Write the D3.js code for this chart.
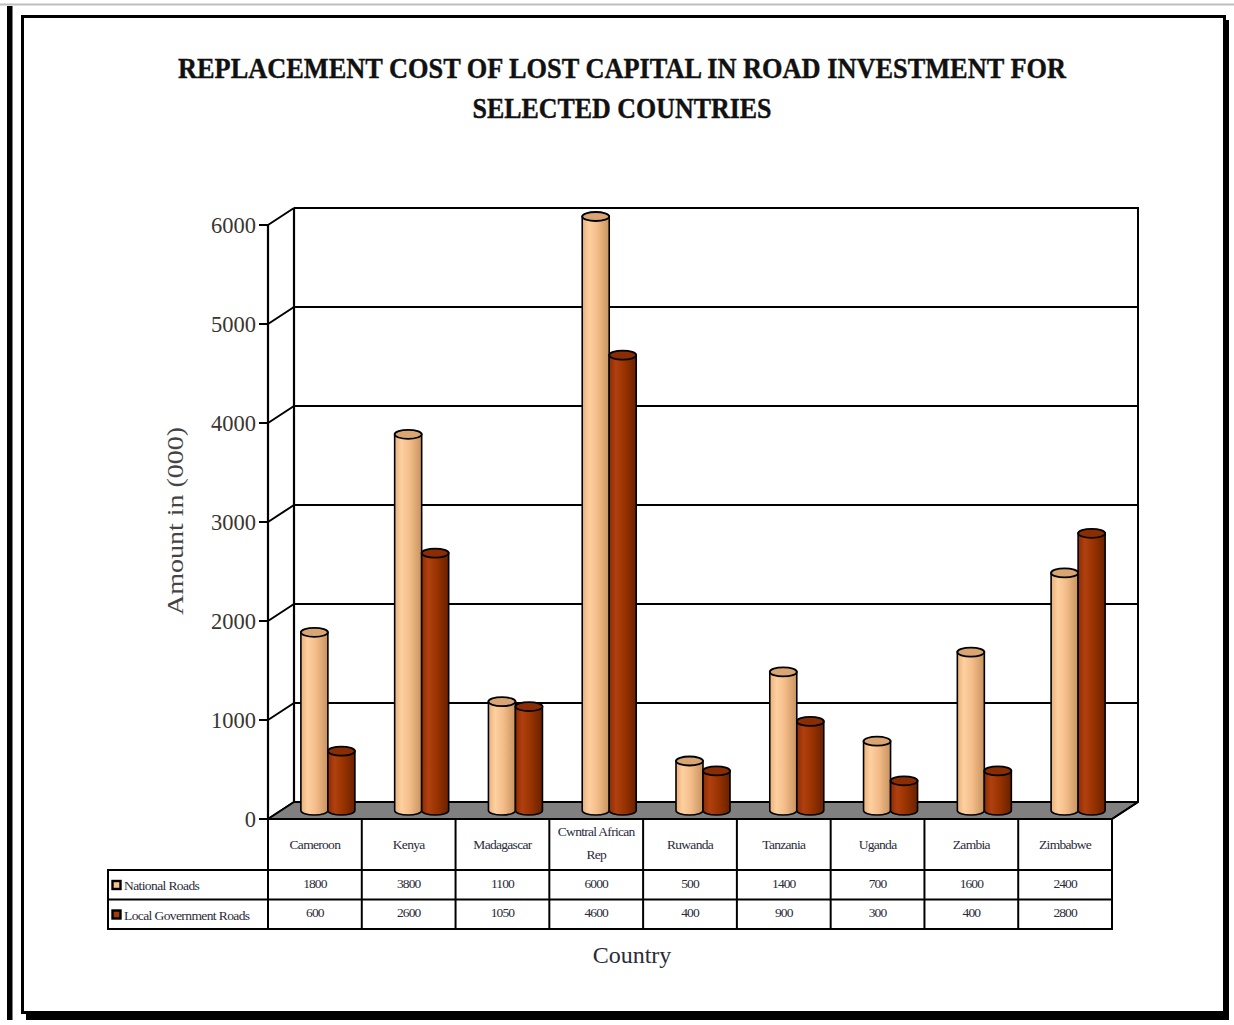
<!DOCTYPE html>
<html>
<head>
<meta charset="utf-8">
<script src="https://cdn.jsdelivr.net/npm/d3@7"></script>
<style>
  html, body { margin: 0; padding: 0; background: #fff; }
  svg { display: block; }
</style>
</head>
<body>
<svg id="chart" width="1234" height="1025"></svg>
<script>
const countries = ["Cameroon", "Kenya", "Madagascar", "Cwntral African Rep", "Ruwanda", "Tanzania", "Uganda", "Zambia", "Zimbabwe"];
const nationalRoads = [1800, 3800, 1100, 6000, 500, 1400, 700, 1600, 2400];
const localGovRoads = [600, 2600, 1050, 4600, 400, 900, 300, 400, 2800];
const seriesNames = ["National Roads", "Local Government Roads"];
const yTicks = [0, 1000, 2000, 3000, 4000, 5000, 6000];
const titleLines = ["REPLACEMENT COST OF LOST CAPITAL IN ROAD INVESTMENT FOR", "SELECTED COUNTRIES"];

const svg = d3.select("#chart");
const serif = "'Liberation Serif', 'Times New Roman', serif";

// page frame
svg.append("line").attr("x1", 0).attr("x2", 1234).attr("y1", 4.5).attr("y2", 4.5)
  .attr("stroke", "#bdbdbd").attr("stroke-width", 2);
svg.append("rect").attr("x", 7).attr("y", 6).attr("width", 5.5).attr("height", 1014).attr("fill", "#000");
svg.append("rect").attr("x", 26).attr("y", 20).attr("width", 1203).attr("height", 1000).attr("fill", "#000");
svg.append("rect").attr("x", 22.5).attr("y", 16.5).attr("width", 1202).attr("height", 996)
  .attr("fill", "#fff").attr("stroke", "#000").attr("stroke-width", 3);

// title
const titleLen = [888, 299];
svg.selectAll("text.title").data(titleLines).join("text")
  .attr("class", "title")
  .attr("x", 622).attr("y", (d, i) => 78 + i * 40)
  .attr("text-anchor", "middle")
  .attr("font-family", serif).attr("font-weight", "bold").attr("font-size", 29)
  .attr("textLength", (d, i) => titleLen[i]).attr("lengthAdjust", "spacingAndGlyphs")
  .attr("fill", "#111").attr("stroke", "#111").attr("stroke-width", 0.4)
  .text(d => d);

// scales
const x0 = 268, x1 = 1112;
const x = d3.scaleBand().domain(countries).range([x0, x1]);
const y = d3.scaleLinear().domain([0, 6000]).range([819, 225]);
const DX = 26, DY = -17;

const defs = svg.append("defs");
function grad(id, stops) {
  const g = defs.append("linearGradient").attr("id", id).attr("x1", "0%").attr("x2", "100%").attr("y1", "0%").attr("y2", "0%");
  stops.forEach(s => g.append("stop").attr("offset", s[0]).attr("stop-color", s[1]));
}
grad("gNat", [["0%", "#eab07a"], ["25%", "#fdd0a0"], ["55%", "#f4bd8a"], ["100%", "#c8935f"]]);
grad("gLoc", [["0%", "#8e2c00"], ["25%", "#b04010"], ["55%", "#9a3400"], ["100%", "#6a2000"]]);

// back wall grid lines
const g = svg.append("g");
g.selectAll("line.grid").data(yTicks).join("line")
  .attr("x1", x0 + DX).attr("x2", x1 + DX + 0.5)
  .attr("y1", d => y(d) + DY).attr("y2", d => y(d) + DY)
  .attr("stroke", "#000").attr("stroke-width", 2.2);
// side wall diagonals
g.selectAll("line.diag").data(yTicks).join("line")
  .attr("x1", x0).attr("y1", d => y(d))
  .attr("x2", x0 + DX).attr("y2", d => y(d) + DY)
  .attr("stroke", "#000").attr("stroke-width", 2);
// verticals
g.append("line").attr("x1", x0 + DX).attr("x2", x0 + DX).attr("y1", y(6000) + DY).attr("y2", y(0) + DY)
  .attr("stroke", "#000").attr("stroke-width", 2.2);
g.append("line").attr("x1", x1 + DX).attr("x2", x1 + DX).attr("y1", y(6000) + DY - 1).attr("y2", y(0) + DY)
  .attr("stroke", "#000").attr("stroke-width", 2);
g.append("line").attr("x1", x0).attr("x2", x0).attr("y1", y(6000)).attr("y2", y(0))
  .attr("stroke", "#000").attr("stroke-width", 2.2);
// ticks
g.selectAll("line.tick").data(yTicks).join("line")
  .attr("x1", x0 - 9).attr("x2", x0).attr("y1", d => y(d)).attr("y2", d => y(d))
  .attr("stroke", "#000").attr("stroke-width", 2);
g.selectAll("text.ytick").data(yTicks).join("text")
  .attr("x", x0 - 12).attr("y", d => y(d) + 8)
  .attr("text-anchor", "end")
  .attr("font-family", serif).attr("font-size", 22.5).attr("fill", "#3a3530")
  .text(d => d);

// floor
const floorPts = [[x0, y(0)], [x1, y(0)], [x1 + DX, y(0) + DY], [x0 + DX, y(0) + DY]];
g.append("polygon").attr("points", floorPts.map(p => p.join(",")).join(" "))
  .attr("fill", "#808080").attr("stroke", "#000").attr("stroke-width", 2).attr("stroke-linejoin", "round");

// cylinders
const R = 13.5, RY = 4.5;
const midX = DX / 2, midY = DY / 2;
function cyl(cx, val, fillId, topFill) {
  const yb = y(0) + midY, yt = y(val) + midY;
  const gg = g.append("g");
  gg.append("path")
    .attr("d", `M${cx - R},${yt} L${cx - R},${yb} A${R},${RY} 0 0 0 ${cx + R},${yb} L${cx + R},${yt} Z`)
    .attr("fill", `url(#${fillId})`).attr("stroke", "#000").attr("stroke-width", 1.6);
  gg.append("ellipse").attr("cx", cx).attr("cy", yt).attr("rx", R).attr("ry", RY)
    .attr("fill", topFill).attr("stroke", "#000").attr("stroke-width", 1.8);
}
countries.forEach((c, i) => {
  const cc = x(c) + x.bandwidth() / 2 + midX;
  cyl(cc - 13.5, nationalRoads[i], "gNat", "#d9a673");
  cyl(cc + 13.5, localGovRoads[i], "gLoc", "#8a2c04");
});

// data table
const tg = svg.append("g");
const hTop = 819, hBot = 870, r1 = 899.5, r2 = 929, tL = 108;
tg.append("rect").attr("x", x0).attr("y", hTop).attr("width", x1 - x0).attr("height", r2 - hTop)
  .attr("fill", "none").attr("stroke", "#000").attr("stroke-width", 2);
tg.append("rect").attr("x", tL).attr("y", hBot).attr("width", x1 - tL).attr("height", r2 - hBot)
  .attr("fill", "none").attr("stroke", "#000").attr("stroke-width", 2);
tg.append("line").attr("x1", tL).attr("x2", x1).attr("y1", r1).attr("y2", r1).attr("stroke", "#000").attr("stroke-width", 2);
tg.selectAll("line.col").data(countries.slice(1)).join("line")
  .attr("x1", d => x(d)).attr("x2", d => x(d)).attr("y1", hTop).attr("y2", r2)
  .attr("stroke", "#000").attr("stroke-width", 2);
// right floor edge
tg.append("line").attr("x1", x1).attr("y1", y(0)).attr("x2", x1 + DX).attr("y2", y(0) + DY)
  .attr("stroke", "#000").attr("stroke-width", 2);

const txtFill = "#2b2b3a";
countries.forEach(c => {
  const cx = x(c) + x.bandwidth() / 2;
  const words = c === "Cwntral African Rep" ? ["Cwntral African", "Rep"] : [c];
  const t = tg.append("text").attr("text-anchor", "middle")
    .attr("font-family", serif).attr("font-size", 13.5).attr("letter-spacing", -0.7).attr("fill", txtFill);
  if (words.length === 1) {
    t.append("tspan").attr("x", cx).attr("y", 849).text(words[0]);
  } else {
    t.append("tspan").attr("x", cx).attr("y", 836).text(words[0]);
    t.append("tspan").attr("x", cx).attr("y", 859).text(words[1]);
  }
});
[nationalRoads, localGovRoads].forEach((arr, k) => {
  tg.selectAll(null).data(arr).join("text")
    .attr("x", (d, i) => x(countries[i]) + x.bandwidth() / 2)
    .attr("y", k === 0 ? 888 : 917)
    .attr("text-anchor", "middle")
    .attr("font-family", serif).attr("font-size", 13.5).attr("letter-spacing", -0.9).attr("fill", txtFill)
    .text(d => d);
});
// legend in table
const legColors = ["#f7c48e", "#a63a08"];
seriesNames.forEach((s, k) => {
  const yy = k === 0 ? 885 : 914.5;
  tg.append("rect").attr("x", 112.5).attr("y", yy - 4).attr("width", 8).attr("height", 8)
    .attr("fill", legColors[k]).attr("stroke", "#000").attr("stroke-width", 2.4);
  tg.append("text").attr("x", 124).attr("y", yy + 5)
    .attr("font-family", serif).attr("font-size", 13.5).attr("letter-spacing", -0.6).attr("fill", txtFill)
    .text(s);
});

// axis titles
svg.append("text")
  .attr("transform", "translate(183,521) rotate(-90)")
  .attr("text-anchor", "middle")
  .attr("font-family", serif).attr("font-size", 24)
  .attr("textLength", 188).attr("lengthAdjust", "spacingAndGlyphs")
  .attr("fill", "#444")
  .text("Amount in (000)");
svg.append("text").attr("x", 632).attr("y", 963).attr("text-anchor", "middle")
  .attr("font-family", serif).attr("font-size", 24).attr("fill", "#2b2b3a")
  .text("Country");
</script>
</body>
</html>
